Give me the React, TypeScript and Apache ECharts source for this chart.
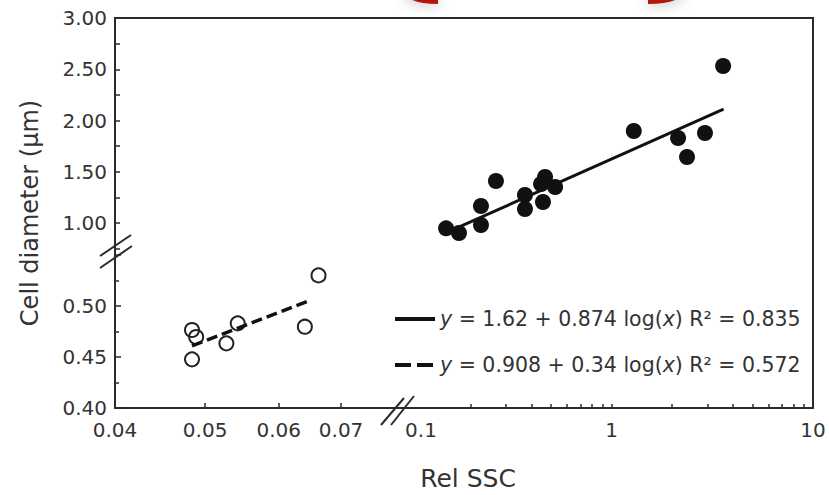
import React, { useEffect, useRef } from "react";
import * as echarts from "echarts";

// ---- data ----
const filledX = [0.151, 0.175, 0.225, 0.225, 0.267, 0.372, 0.372, 0.457, 0.468, 0.447, 0.525, 1.29, 2.14, 2.37, 2.91, 3.58];
const filledY = [0.948, 0.902, 1.166, 0.98, 1.41, 1.273, 1.137, 1.205, 1.449, 1.38, 1.351, 1.898, 1.829, 1.644, 1.878, 2.532];
const openX = [0.0484, 0.0489, 0.0484, 0.0527, 0.0542, 0.064, 0.0662];
const openY = [0.4765, 0.4696, 0.4477, 0.4634, 0.483, 0.4797, 0.53];
const solidFitX = [0.17, 3.6];
const solidFitY = [0.95, 2.11];
const dashedFitX = [0.0484, 0.065];
const dashedFitY = [0.461, 0.506];
const lowerXLabels = [0.04, 0.05, 0.06, 0.07];
const lowerXTicks = [0.05, 0.06, 0.07];
const upperXTicks = [0.2, 0.3, 0.4, 0.5, 0.6, 0.7, 0.8, 0.9, 1, 2, 3, 4, 5, 6, 7, 8, 9];
const solidName = "y = 1.62 + 0.874 log(x) R² = 0.835";
const dashedName = "y = 0.908 + 0.34 log(x) R² = 0.572";
const xTitle = "Rel SSC";
const yTitle = "Cell diameter (μm)";

const FONT = "DejaVu Sans";
const AX = "#2b2b2b";
const TXT = "#333";

const pairs = (xs: number[], ys: number[]) => xs.map((x, i) => [x, ys[i]]);

const labelStyle = { fontFamily: FONT, fontSize: 20, color: TXT };

const option: any = {
  animation: false,
  backgroundColor: "#fff",
  grid: [
    { left: 115, top: 255, width: 280, height: 153 },
    { left: 410, top: 18, width: 403, height: 230.625 },
  ],
  xAxis: [
    {
      gridIndex: 0,
      type: "log",
      logBase: 10,
      min: 0.04,
      max: 0.08,
      axisLine: { show: true, lineStyle: { color: AX, width: 2 } },
      axisTick: { show: true, inside: true, length: 5, customValues: lowerXTicks, lineStyle: { color: AX, width: 1.5 } },
      axisLabel: { ...labelStyle, margin: 12, customValues: lowerXLabels, formatter: (v: number) => v.toFixed(2) },
      splitLine: { show: false },
    },
    {
      gridIndex: 1,
      type: "log",
      logBase: 10,
      min: 0.1,
      max: 10,
      offset: 408 - (18 + 230.625),
      axisLine: { show: true, lineStyle: { color: AX, width: 2 } },
      axisTick: { show: true, inside: true, length: 4, customValues: upperXTicks, lineStyle: { color: AX, width: 1.5 } },
      axisLabel: {
        ...labelStyle,
        margin: 12,
        formatter: (v: number) => (v < 0.5 ? "{p|0.1}" : String(Math.round(v))),
        rich: { p: { ...labelStyle, padding: [0, 0, 0, 22] } },
      },
      splitLine: { show: false },
    },
  ],
  yAxis: [
    {
      gridIndex: 0,
      type: "value",
      min: 0.4,
      max: 0.55,
      interval: 0.05,
      axisLine: { show: true, lineStyle: { color: AX, width: 2 } },
      axisTick: { show: true, inside: true, length: 6, lineStyle: { color: AX, width: 1.5 } },
      minorTick: { show: true, splitNumber: 2, length: 4, lineStyle: { color: AX, width: 1.5 } },
      axisLabel: { ...labelStyle, margin: 8, formatter: (v: number) => (v > 0.54 ? "" : v.toFixed(2)) },
      splitLine: { show: false },
    },
    {
      gridIndex: 1,
      type: "value",
      min: 0.75,
      max: 3.0,
      interval: 0.25,
      offset: 295,
      axisLine: { show: true, lineStyle: { color: AX, width: 2 } },
      axisTick: { show: true, inside: true, length: 5, lineStyle: { color: AX, width: 1.5 } },
      axisLabel: {
        ...labelStyle,
        margin: 8,
        formatter: (v: number) => (v >= 0.99 && Math.abs(v * 2 - Math.round(v * 2)) < 1e-6 ? v.toFixed(2) : ""),
      },
      splitLine: { show: false },
    },
  ],
  legend: {
    left: 388,
    top: 301,
    orient: "vertical",
    itemWidth: 40,
    itemHeight: 14,
    itemGap: 20,
    selectedMode: false,
    itemStyle: { opacity: 0 },
    data: [
      { name: solidName, lineStyle: { width: 4, color: "#111", type: "solid" } },
      { name: dashedName, lineStyle: { width: 4, color: "#111", type: [16, 6] } },
    ],
    formatter: (name: string) => name.replace(/^y/, "{i|y}").replace("(x)", "({i|x})"),
    textStyle: {
      fontFamily: FONT,
      fontSize: 20.5,
      lineHeight: 26,
      color: TXT,
      rich: { i: { fontFamily: FONT, fontSize: 20.5, fontStyle: "italic", color: TXT, lineHeight: 26 } },
    },
  },
  series: [
    {
      name: "filled",
      type: "scatter",
      xAxisIndex: 1,
      yAxisIndex: 1,
      symbol: "circle",
      symbolSize: 16,
      itemStyle: { color: "#111", opacity: 1 },
      data: pairs(filledX, filledY),
      z: 3,
    },
    {
      name: solidName,
      type: "line",
      xAxisIndex: 1,
      yAxisIndex: 1,
      symbol: "none",
      lineStyle: { color: "#111", width: 3 },
      itemStyle: { color: "#111" },
      data: pairs(solidFitX, solidFitY),
      z: 4,
    },
    {
      name: "open",
      type: "scatter",
      xAxisIndex: 0,
      yAxisIndex: 0,
      symbol: "circle",
      symbolSize: 14,
      itemStyle: { color: "rgba(255,255,255,0)", borderColor: "#222", borderWidth: 2, opacity: 1 },
      data: pairs(openX, openY),
      z: 3,
    },
    {
      name: dashedName,
      type: "line",
      xAxisIndex: 0,
      yAxisIndex: 0,
      symbol: "none",
      lineStyle: { color: "#111", width: 3.5, type: [11, 5] },
      itemStyle: { color: "#111" },
      data: pairs(dashedFitX, dashedFitY),
      z: 4,
    },
  ],
  graphic: [
    {
      type: "rect",
      shape: { x: 115, y: 18, width: 698, height: 390 },
      style: { fill: "none", stroke: AX, lineWidth: 2 },
      silent: true,
      z: 0,
    },
    // y-axis break marks
    { type: "line", shape: { x1: 100, y1: 256, x2: 131, y2: 235 }, style: { stroke: AX, lineWidth: 2 }, z: 10 },
    { type: "line", shape: { x1: 100, y1: 268, x2: 132, y2: 246 }, style: { stroke: AX, lineWidth: 2 }, z: 10 },
    // x-axis break marks
    { type: "line", shape: { x1: 381, y1: 425, x2: 404, y2: 398 }, style: { stroke: AX, lineWidth: 2 }, z: 10 },
    { type: "line", shape: { x1: 391, y1: 425, x2: 414, y2: 396 }, style: { stroke: AX, lineWidth: 2 }, z: 10 },
    // axis titles
    {
      type: "text",
      x: 468,
      y: 478,
      style: { text: xTitle, fontFamily: FONT, fontSize: 25, fill: TXT, align: "center", verticalAlign: "middle" },
    },
    {
      type: "text",
      x: 30,
      y: 213,
      rotation: Math.PI / 2,
      style: { text: yTitle, fontFamily: FONT, fontSize: 24, fill: TXT, align: "center", verticalAlign: "middle" },
    },
    // red decoration cut at the top
    {
      type: "bezierCurve",
      shape: { x1: 406, y1: -12, cpx1: 407, cpy1: 1, x2: 438, y2: 1 },
      style: { stroke: "#b3170c", lineWidth: 6, fill: "none", shadowBlur: 14, shadowColor: "rgba(0,0,0,0.35)" },
    },
    {
      type: "bezierCurve",
      shape: { x1: 648, y1: 1, cpx1: 681, cpy1: 1, x2: 682, y2: -12 },
      style: { stroke: "#b3170c", lineWidth: 6, fill: "none", shadowBlur: 14, shadowColor: "rgba(0,0,0,0.35)" },
    },
  ],
};

export default function App() {
  const ref = useRef<HTMLDivElement>(null);
  useEffect(() => {
    document.body.style.margin = "0";
    const chart = echarts.init(ref.current!, null, { renderer: "svg" });
    chart.setOption(option);
    return () => chart.dispose();
  }, []);
  return <div ref={ref} style={{ width: 829, height: 495 }} />;
}
